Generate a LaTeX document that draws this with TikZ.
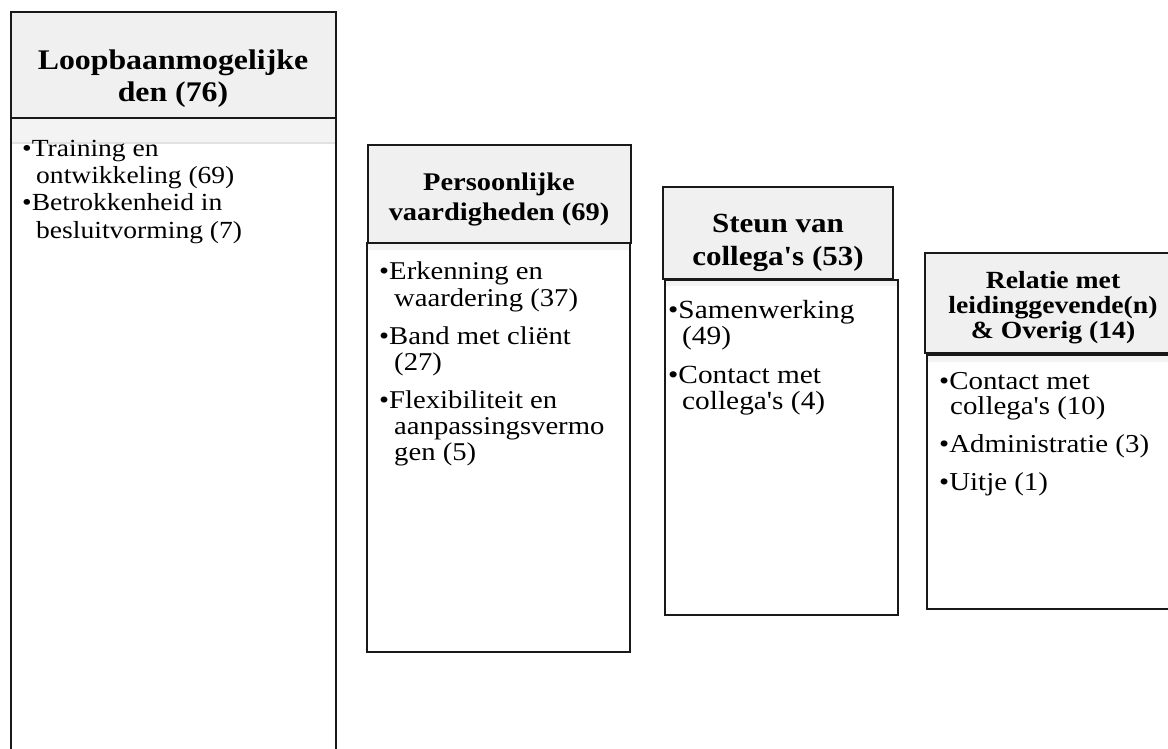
\documentclass[tikz,border=0pt]{standalone}
\usepackage{fontspec}
\setmainfont{Liberation Serif}
\usepackage{graphicx}
\definecolor{hdrgray}{HTML}{F0F0F0}
\definecolor{bandgray}{HTML}{F3F3F3}
\definecolor{bandline}{HTML}{E2E2E2}
\newcommand\hs[1]{\scalebox{1.12}[1]{#1}}
\newcommand\q{\textquotesingle}
\tikzset{
  hdr/.style={draw=black!90, line width=2pt, fill=hdrgray},
  bodybox/.style={draw=black!90, line width=2pt, fill=white},
  ttl/.style={anchor=base, inner sep=0pt},
  itm/.style={anchor=base west, inner sep=0pt},
  band/.style={fill=bandgray},
}
\begin{document}
\begin{tikzpicture}[x=1pt,y=-1pt]
\useasboundingbox (0,0) rectangle (1168,749);
\fill[white] (0,0) rectangle (1168,749);

% ---------- Box 1 ----------
\fill[white] (11,118) rectangle (336,760);
\fill[band] (12,119) rectangle (335,143);
\draw[bandline, line width=1.5pt] (12,143) -- (335,143);
\draw[black!90, line width=2pt] (11,760) -- (11,118) (336,118) -- (336,760);
\draw[hdr] (11,12) rectangle (336,118);
\begin{scope}[every node/.style={font=\fontsize{28.4}{30}\selectfont\bfseries}]
\node[ttl] (t1a) at (173,70) {\hs{Loopbaanmogelijke}};
\node[ttl] (t1b) at (173,102) {\hs{den (76)}};
\end{scope}
\begin{scope}[every node/.style={font=\fontsize{24.6}{28}\selectfont}]
\node[itm] (b1a) at (22,157) {\hs{•Training en}};
\node[itm] (b1b) at (36,184) {\hs{ontwikkeling (69)}};
\node[itm] (b1c) at (22,211) {\hs{•Betrokkenheid in}};
\node[itm] (b1d) at (36,238) {\hs{besluitvorming (7)}};
\end{scope}

% ---------- Box 2 ----------
\draw[bodybox] (367,243) rectangle (630,652);
\fill[band] (368,244) rectangle (629,250);
\draw[hdr] (368,145) rectangle (631,243);
\begin{scope}[every node/.style={font=\fontsize{25.4}{28}\selectfont\bfseries}]
\node[ttl] (t2a) at (499,190) {\hs{Persoonlijke}};
\node[ttl] (t2b) at (499,220) {\hs{vaardigheden (69)}};
\end{scope}
\begin{scope}[every node/.style={font=\fontsize{25.6}{28}\selectfont}]
\node[itm] (b2a) at (379,279) {\hs{•Erkenning en}};
\node[itm] (b2b) at (394,306) {\hs{waardering (37)}};
\node[itm] (b2c) at (379,344) {\hs{•Band met cliënt}};
\node[itm] (b2d) at (394,370) {\hs{(27)}};
\node[itm] (b2e) at (379,408) {\hs{•Flexibiliteit en}};
\node[itm] (b2f) at (394,434) {\hs{aanpassingsvermo}};
\node[itm] (b2g) at (394,460) {\hs{gen (5)}};
\end{scope}

% ---------- Box 3 ----------
\draw[bodybox] (665,280) rectangle (898,615);
\fill[band] (666,281) rectangle (897,286);
\draw[hdr] (663,187) rectangle (893,279);
\begin{scope}[every node/.style={font=\fontsize{27.7}{30}\selectfont\bfseries}]
\node[ttl] (t3a) at (778,233) {\hs{Steun van}};
\node[ttl] (t3b) at (778,265) {\hs{collega\q s (53)}};
\end{scope}
\begin{scope}[every node/.style={font=\fontsize{26.2}{28}\selectfont}]
\node[itm] (b3a) at (668,318) {\hs{•Samenwerking}};
\node[itm] (b3b) at (682,344) {\hs{(49)}};
\node[itm] (b3c) at (668,383) {\hs{•Contact met}};
\node[itm] (b3d) at (682,409) {\hs{collega\q s (4)}};
\end{scope}

% ---------- Box 4 ----------
\draw[bodybox] (927,355) rectangle (1180,609);
\fill[band] (928,356) rectangle (1170,362);
\draw[hdr] (925,253) rectangle (1180,353);
\begin{scope}[every node/.style={font=\fontsize{24.7}{26}\selectfont\bfseries}]
\node[ttl] (t4a) at (1053,288) {\hs{Relatie met}};
\node[ttl] (t4b) at (1053,313) {\hs{leidinggevende(n)}};
\node[ttl] (t4c) at (1053,338) {\hs{\& Overig (14)}};
\end{scope}
\begin{scope}[every node/.style={font=\fontsize{25.8}{28}\selectfont}]
\node[itm] (b4a) at (939,389) {\hs{•Contact met}};
\node[itm] (b4b) at (950,414) {\hs{collega\q s (10)}};
\node[itm] (b4c) at (939,452) {\hs{•Administratie (3)}};
\node[itm] (b4d) at (939,490) {\hs{•Uitje (1)}};
\end{scope}
\end{tikzpicture}
\end{document}
